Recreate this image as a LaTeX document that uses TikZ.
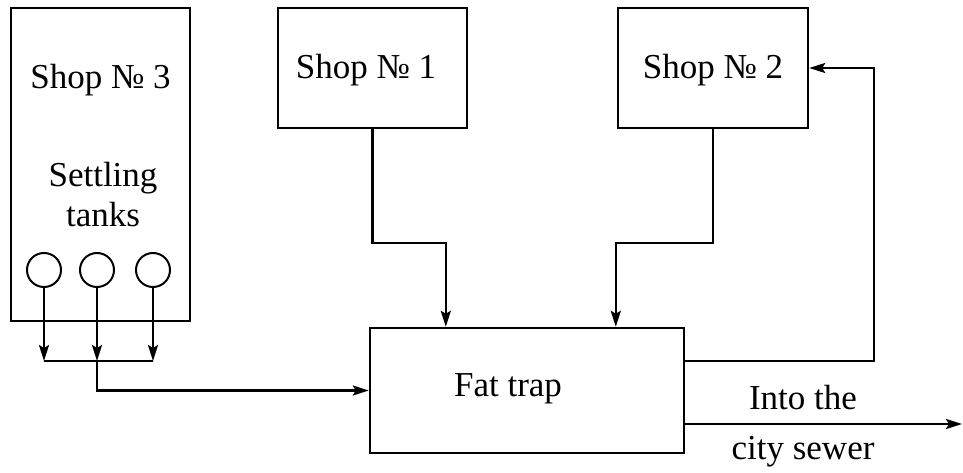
\documentclass[tikz,border=0pt]{standalone}
\usepackage{fontspec}
\setmainfont{Liberation Serif}
\usepackage{tikz}
\usetikzlibrary{arrows.meta}

\begin{document}
\begin{tikzpicture}[x=1pt,y=-1pt,line width=2.4pt,
	box/.style={draw,rectangle,inner sep=0pt},
	tank/.style={draw,circle,minimum size=34pt,inner sep=0pt,line width=2pt},
	lbl/.style={font=\fontsize{35}{40}\selectfont,align=center,inner sep=0pt},
	>={Stealth[length=16pt,width=10pt,inset=3pt]}]
	
	\useasboundingbox (0,0) rectangle (963,473);
	
	% Draw shops
	\node[box,minimum width=179pt,minimum height=313pt] (shop3) at (100.5,164.5) {};
	\node[lbl] (shop3txt) at (100.5,80) {Shop № 3};
	\node[lbl] (settle) at (103,195) {Settling\\tanks};
	\node[box,minimum width=189pt,minimum height=120pt] (shop1) at (372.5,68) {};
	\node[lbl] (shop1txt) at (366,70) {Shop № 1};
	\node[box,minimum width=190pt,minimum height=120pt] (shop2) at (713,68) {};
	\node[lbl] (shop2txt) at (713,70) {Shop № 2};
	
	% Draw settling tanks
	\node[tank] (c1) at (44,270) {};
	\node[tank] (c2) at (97,270) {};
	\node[tank] (c3) at (153,270) {};
	\coordinate (bus) at (97,361);
	\draw[->] (c1.south) -- (c1.south |- bus);
	\draw[->] (c2.south) -- (c2.south |- bus);
	\draw[->] (c3.south) -- (c3.south |- bus);
	\draw (c1 |- bus) -- (c3 |- bus);
	
	% Draw fat trap
	\node[box,minimum width=314pt,minimum height=125pt] (trap) at (527,390.5) {};
	\node[lbl] (traptxt) at (508,389) {Fat trap};
	
	% Draw connections
	\draw[->] (bus) |- (trap.west);
	\draw[->] (shop1.south) -- ++(0,114) -| ([xshift=77pt]trap.north west);
	\draw[->] (shop2.south) -- ++(0,114) -| ([xshift=247pt]trap.north west);
	\draw[->] ([yshift=29.5pt]trap.east) -- ++(189,0) |- (shop2.east);
	
	% Draw outlet
	\coordinate (sewer) at (962,424);
	\draw[->] ([yshift=-33.5pt]trap.east) -- (sewer);
	\node[lbl] (into) at (803,398) {Into the};
	\node[lbl] (city) at (803,452) {city sewer};
	
\end{tikzpicture}
\end{document}
